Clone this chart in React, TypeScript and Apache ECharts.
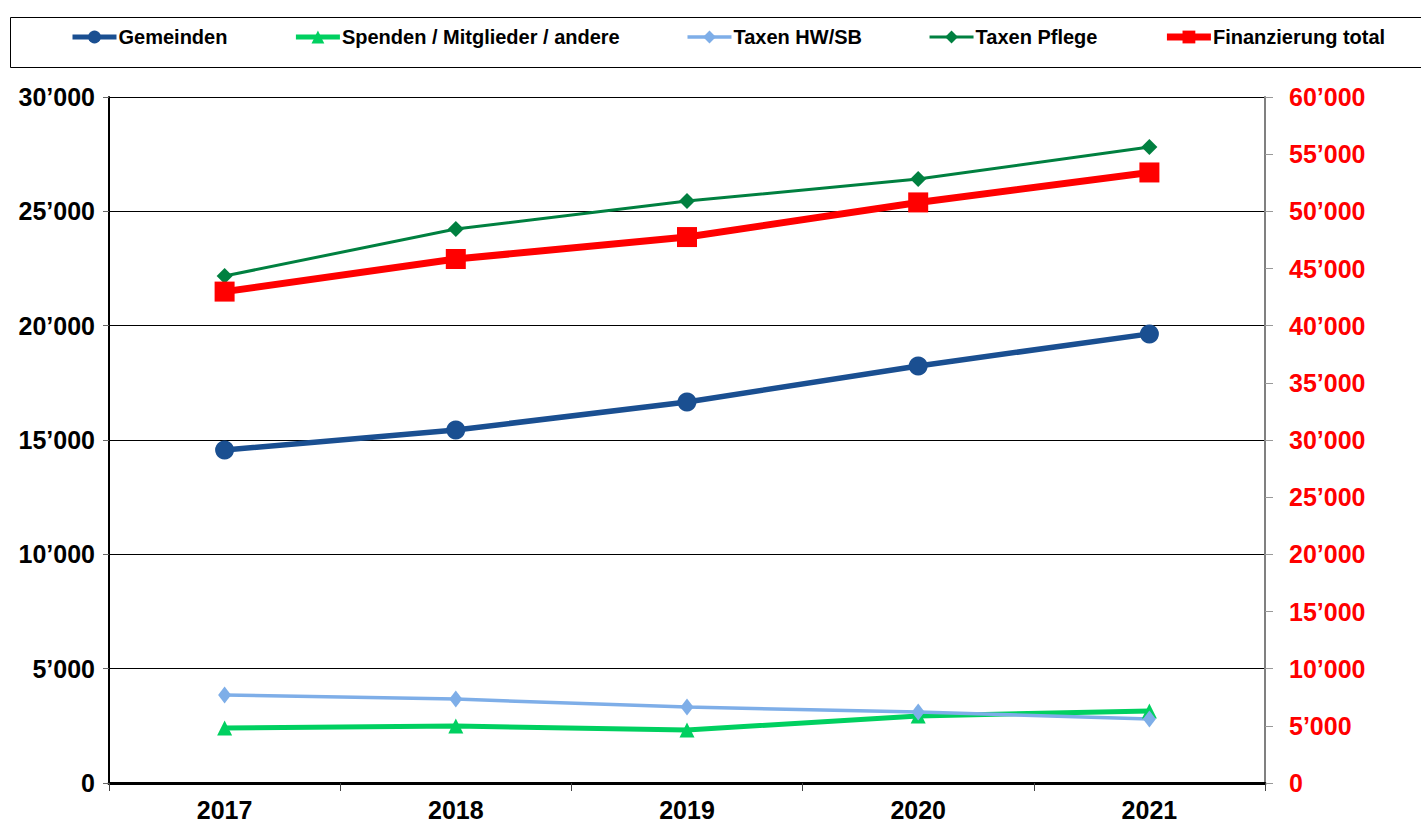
import React, { useEffect, useRef } from "react";
import * as echarts from "echarts";

const years = ["2017", "2018", "2019", "2020", "2021"];
const gemeinden = [14560, 15440, 16660, 18240, 19640];
const spenden = [2400, 2490, 2320, 2930, 3150];
const taxenHWSB = [3850, 3670, 3320, 3100, 2800];
const taxenPflege = [22170, 24230, 25450, 26410, 27810];
const finanzierungTotal = [42980, 45830, 47750, 50780, 53400];

const fmt = (v: number) => String(v).replace(/\B(?=(\d{3})+(?!\d))/g, "’");

export default function App() {
  const ref = useRef<HTMLDivElement>(null);
  useEffect(() => {
    document.body.style.margin = "0";
    const chart = echarts.init(ref.current!, undefined, { renderer: "svg" });
    const font = "'Liberation Sans', Arial, sans-serif";
    const C = {
      gem: "#1a4f91",
      spe: "#00d060",
      hw: "#7eaee8",
      pfl: "#008040",
      tot: "#ff0000",
    };
    chart.setOption({
      animation: false,
      backgroundColor: "#fff",
      textStyle: { fontFamily: font },
      graphic: [
        {
          type: "rect",
          shape: { x: 10.5, y: 17.5, width: 1420, height: 50 },
          style: { fill: "none", stroke: "#000", lineWidth: 1 },
          z: -1,
        },
      ],
      legend: {
        left: 70,
        top: 27,
        padding: 0,
        itemWidth: 44,
        itemHeight: 16,
        itemGap: 66,
        textStyle: { fontFamily: font, fontSize: 20, fontWeight: "bold", color: "#000", padding: [0, 0, 0, -3] },
        data: [
          { name: "Gemeinden", lineStyle: { width: 5 } },
          { name: "Spenden / Mitglieder / andere", lineStyle: { width: 5 } },
          { name: "Taxen HW/SB", lineStyle: { width: 3.5 } },
          { name: "Taxen Pflege", lineStyle: { width: 3 } },
          { name: "Finanzierung total", lineStyle: { width: 7 } },
        ],
      },
      grid: { left: 109, right: 156, top: 97, bottom: 44, containLabel: false },
      xAxis: {
        type: "category",
        data: years,
        boundaryGap: true,
        axisLine: { lineStyle: { color: "#000", width: 3 } },
        axisTick: { show: true, length: 8, lineStyle: { color: "#444", width: 1 } },
        axisLabel: { fontFamily: font, fontSize: 25, fontWeight: "bold", color: "#000", margin: 14 },
      },
      yAxis: [
        {
          type: "value",
          min: 0,
          max: 30000,
          interval: 5000,
          axisLine: { show: true, lineStyle: { color: "#000", width: 2 } },
          axisTick: { show: true, length: 6, lineStyle: { color: "#666" } },
          splitLine: { show: true, lineStyle: { color: "#000", width: 1 } },
          axisLabel: { fontFamily: font, fontSize: 25, fontWeight: "bold", color: "#000", margin: 14, formatter: fmt },
        },
        {
          type: "value",
          min: 0,
          max: 60000,
          interval: 5000,
          position: "right",
          axisLine: { show: true, lineStyle: { color: "#808080", width: 2 } },
          axisTick: { show: true, length: 8, lineStyle: { color: "#999" } },
          splitLine: { show: false },
          axisLabel: { fontFamily: font, fontSize: 25, fontWeight: "bold", color: "#ff0000", margin: 24, formatter: fmt },
        },
      ],
      series: [
        {
          name: "Gemeinden",
          type: "line",
          data: gemeinden,
          symbol: "circle",
          symbolSize: 19,
          itemStyle: { color: C.gem },
          lineStyle: { color: C.gem, width: 5.5 },
        },
        {
          name: "Spenden / Mitglieder / andere",
          type: "line",
          data: spenden,
          symbol: "triangle",
          symbolSize: 15,
          itemStyle: { color: C.spe },
          lineStyle: { color: C.spe, width: 5 },
        },
        {
          name: "Taxen HW/SB",
          type: "line",
          data: taxenHWSB,
          symbol: "diamond",
          symbolSize: [13, 17],
          itemStyle: { color: C.hw },
          lineStyle: { color: C.hw, width: 3.5 },
        },
        {
          name: "Taxen Pflege",
          type: "line",
          data: taxenPflege,
          symbol: "diamond",
          symbolSize: 16,
          itemStyle: { color: C.pfl },
          lineStyle: { color: C.pfl, width: 3 },
        },
        {
          name: "Finanzierung total",
          type: "line",
          yAxisIndex: 1,
          data: finanzierungTotal,
          symbol: "rect",
          symbolSize: 20,
          itemStyle: { color: C.tot },
          lineStyle: { color: C.tot, width: 7 },
        },
      ],
    });
    return () => chart.dispose();
  }, []);
  return <div ref={ref} style={{ width: 1421, height: 827 }} />;
}
